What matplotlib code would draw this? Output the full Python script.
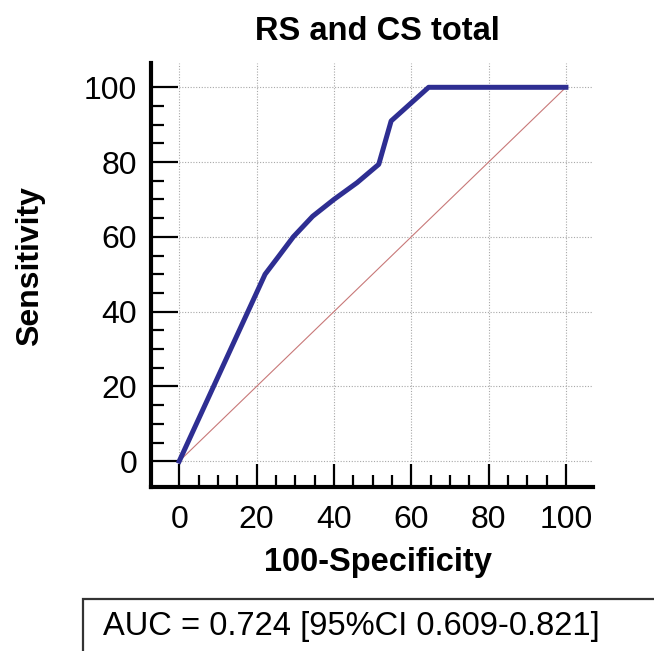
import numpy as np
import matplotlib
matplotlib.use("Agg")
import matplotlib.pyplot as plt
from matplotlib.patches import Rectangle

plt.rcParams['font.family'] = ['Liberation Sans', 'DejaVu Sans']

# ROC points
fpr = [0, 22.2, 25.5, 29.5, 34.5, 40, 46, 51.6, 54.8, 64.5, 100]
tpr = [0, 50, 54.5, 60, 65.5, 70, 74.5, 79.4, 91, 100, 100]
ticks = [0, 20, 40, 60, 80, 100]
title = "RS and CS total"
auc_text = "AUC = 0.724 [95%CI 0.609-0.821]"

W, H = 654, 651
fig = plt.figure(figsize=(W / 100, H / 100), dpi=100)
ax = fig.add_axes([151 / W, 164 / H, (593 - 151) / W, (588 - 164) / H])

xmax, ymax = 107, 106.5
ax.set_xlim(-7.3, xmax)
ax.set_ylim(-6.9, ymax)

# dotted grid, only over the data area
ax.vlines(ticks, 0, ymax, colors="#a8a8a8", linestyles=(0, (1, 1.5)), lw=0.8, zorder=1)
ax.hlines(ticks, 0, xmax, colors="#a8a8a8", linestyles=(0, (1, 1.5)), lw=0.8, zorder=1)

# chance line and ROC curve
ax.plot([0, 100], [0, 100], color="#c87878", lw=0.8, zorder=2)
ax.plot(fpr, tpr, color="#2e2e92", lw=3.6, solid_joinstyle="round", zorder=3, clip_on=False)

for s in ["top", "right"]:
    ax.spines[s].set_visible(False)
for s in ["left", "bottom"]:
    ax.spines[s].set_linewidth(3)
    ax.spines[s].set_capstyle("projecting")

ax.set_xticks(ticks)
ax.set_yticks(ticks)
ax.set_xticks(np.arange(0, 101, 5), minor=True)
ax.set_yticks(np.arange(0, 101, 5), minor=True)
ax.tick_params(axis="x", which="major", direction="in", length=16.5, width=1.6, pad=13, labelsize=23)
ax.tick_params(axis="x", which="minor", direction="in", length=8.6, width=1.6)
ax.tick_params(axis="y", which="major", direction="in", length=19.4, width=1.6, pad=10, labelsize=23)
ax.tick_params(axis="y", which="minor", direction="in", length=9.4, width=1.6)

fig.text(377 / W, 1 - 31 / H, title, ha="center", va="center", fontsize=23.5, fontweight="bold")
fig.text(378 / W, 1 - 562 / H, "100-Specificity", ha="center", va="center", fontsize=23.5, fontweight="bold")
fig.text(30 / W, 1 - 266 / H, "Sensitivity", ha="center", va="center", rotation=90,
         fontsize=23, fontweight="bold")

# AUC box running off the bottom-right edge
fig.patches.append(Rectangle((83 / W, -0.05), 1.0, 1 - 599 / H + 0.05, transform=fig.transFigure,
                             fill=False, edgecolor="#333333", lw=1.6))
fig.text(103 / W, 1 - 627 / H, auc_text, ha="left", va="center", fontsize=23.5)

fig.savefig("out.png", dpi=100)
